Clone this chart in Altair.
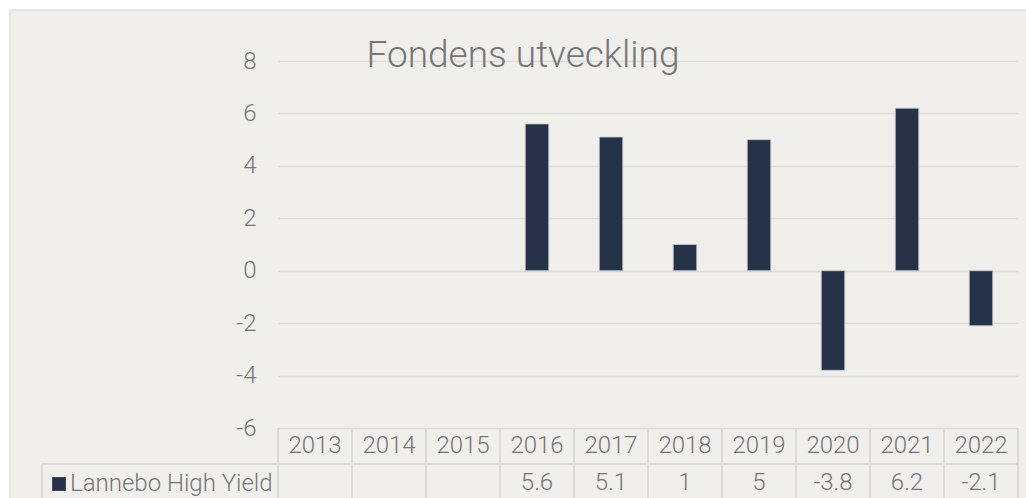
import altair as alt
import pandas as pd

years = ["2013", "2014", "2015", "2016", "2017", "2018", "2019", "2020", "2021", "2022"]
values = [None, None, None, 5.6, 5.1, 1, 5, -3.8, 6.2, -2.1]
value_labels = ["", "", "", "5.6", "5.1", "1", "5", "-3.8", "6.2", "-2.1"]
series_name = "Lannebo High Yield"
title_text = "Fondens utveckling"
y_ticks = [-6, -4, -2, 0, 2, 4, 6, 8]

BAR = "#263248"
TXT = "#767577"
LINE = "#dcdbd9"
FONT = "Roboto"

df = pd.DataFrame({"year": years, "value": values, "label": value_labels})
one = pd.DataFrame({"t": [title_text], "s": [series_name]})

W, H = 740, 367

xenc = alt.X("year:O", sort=years,
             scale=alt.Scale(domain=years, paddingInner=0, paddingOuter=0),
             axis=None)

bars = alt.Chart(df).mark_bar(size=23.5, color=BAR, stroke="#c9cbd0", strokeWidth=0.8).encode(
    x=xenc,
    y=alt.Y("value:Q", scale=alt.Scale(domain=[-6, 8], nice=False, zero=False),
            axis=alt.Axis(values=y_ticks, grid=True, gridColor=LINE, gridWidth=1.6,
                          domain=False, ticks=False, labelFontSize=24, labelColor=TXT,
                          labelFont=FONT, labelFontWeight=300, labelPadding=22, title=None,
                          labelExpr="'' + datum.value")),
)

# white margin outside the frame + frame border
white_left = alt.Chart(one).mark_rect(color="white").encode(
    x=alt.value(-278), x2=alt.value(-268), y=alt.value(-61), y2=alt.value(440))
white_top = alt.Chart(one).mark_rect(color="white").encode(
    x=alt.value(-278), x2=alt.value(760), y=alt.value(-61), y2=alt.value(-51))
frame_l = alt.Chart(one).mark_rule(color="#dcdcdc", strokeWidth=1.5).encode(
    x=alt.value(-268), y=alt.value(-51), y2=alt.value(440))
frame_t = alt.Chart(one).mark_rule(color="#dcdcdc", strokeWidth=1.5).encode(
    x=alt.value(-268), x2=alt.value(760), y=alt.value(-51))

# data table
vlines = alt.Chart(df).mark_rule(color=LINE, strokeWidth=2).encode(
    x=alt.X("year:O", sort=years, bandPosition=0, axis=None),
    y=alt.value(H), y2=alt.value(450))
vline_end = alt.Chart(one).mark_rule(color=LINE, strokeWidth=2).encode(
    x=alt.value(W), y=alt.value(H), y2=alt.value(450))
hline_row = alt.Chart(one).mark_rule(color=LINE, strokeWidth=2).encode(
    x=alt.value(-236), x2=alt.value(W), y=alt.value(403))
vline_leg = alt.Chart(one).mark_rule(color=LINE, strokeWidth=2).encode(
    x=alt.value(-236), y=alt.value(403), y2=alt.value(450))

header = alt.Chart(df).mark_text(fontSize=24, font=FONT, fontWeight=300, color=TXT).encode(
    x=xenc, y=alt.value(385), text="year:N")
vals = alt.Chart(df).mark_text(fontSize=24, font=FONT, fontWeight=300, color=TXT).encode(
    x=xenc, y=alt.value(422), text="label:N")

leg_sq = alt.Chart(one).mark_point(shape="square", size=190, filled=True, color=BAR, opacity=1).encode(
    x=alt.value(-219), y=alt.value(423))
leg_txt = alt.Chart(one).mark_text(fontSize=24, font=FONT, fontWeight=300, color=TXT, align="left").encode(
    x=alt.value(-208), y=alt.value(423), text="s:N")

title = alt.Chart(one).mark_text(fontSize=37, font=FONT, fontWeight=300, color=TXT,
                                 align="center", baseline="alphabetic").encode(
    x=alt.value(245), y=alt.value(6), text="t:N")

chart = alt.layer(
    bars, white_left, white_top, frame_l, frame_t,
    vlines, vline_end, hline_row, vline_leg, header, vals, leg_sq, leg_txt, title
).properties(
    width=W, height=H, autosize="none",
    padding={"left": 278, "top": 61, "right": 8, "bottom": 70},
    background="#f0efec",
).configure_view(strokeWidth=0)

chart.save("out.html", embed_options={"renderer": "svg", "actions": False})
